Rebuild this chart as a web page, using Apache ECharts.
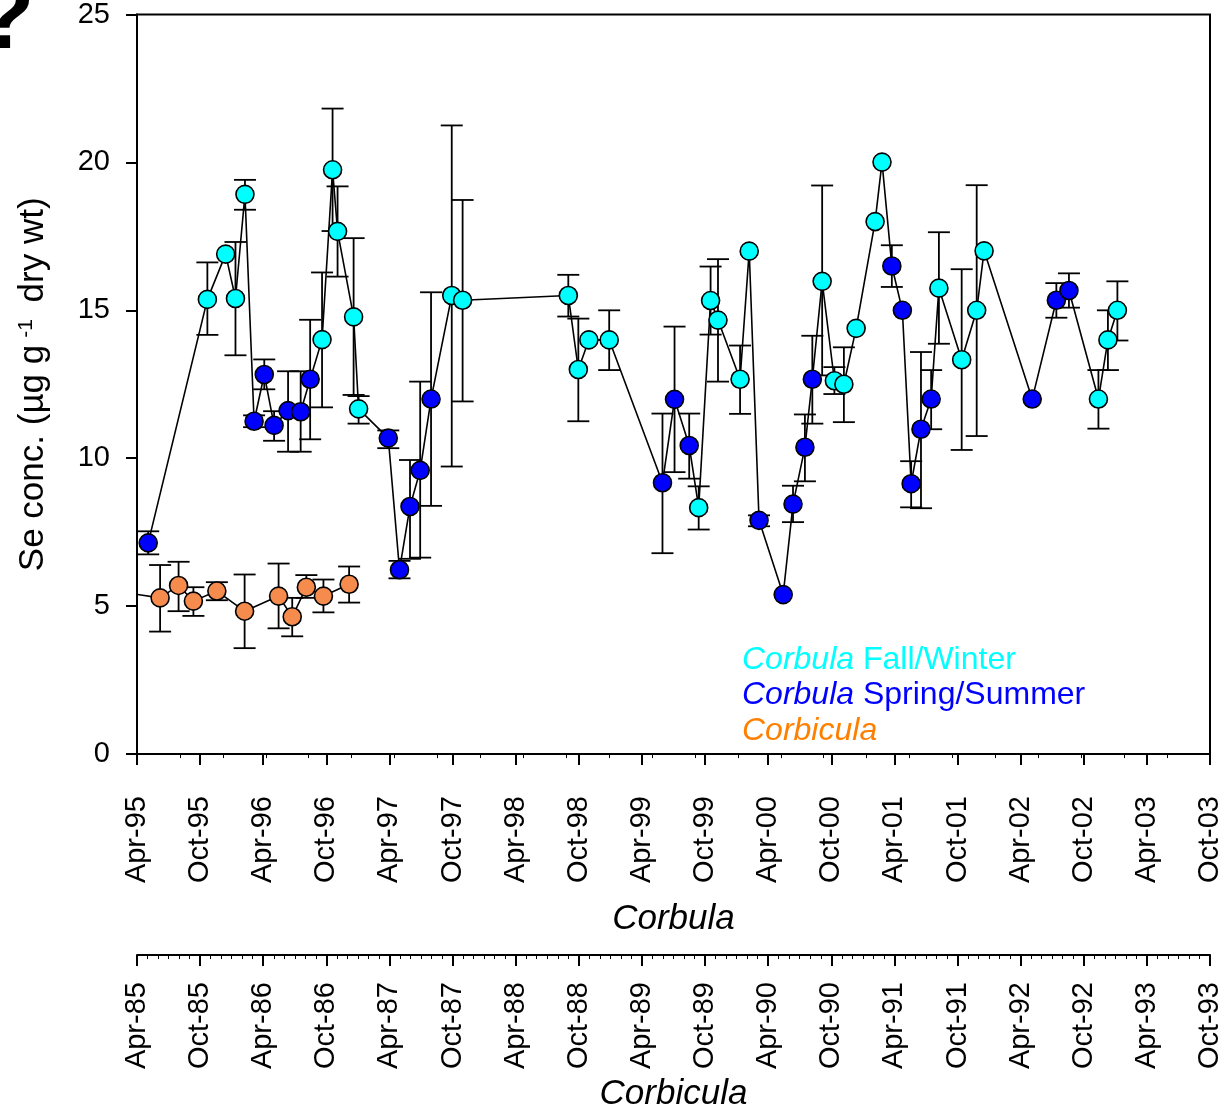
<!DOCTYPE html>
<html>
<head>
<meta charset="utf-8">
<script src="https://cdn.jsdelivr.net/npm/echarts@6/dist/echarts.min.js"></script>
<style>
html,body{margin:0;padding:0;background:#fff;}
#chart{width:1229px;height:1117px;}
</style>
</head>
<body>
<div id="chart"></div>
<script>
// tick labels, one every 6 months
var corbulaLabels = ['Apr-95','Oct-95','Apr-96','Oct-96','Apr-97','Oct-97','Apr-98','Oct-98','Apr-99',
    'Oct-99','Apr-00','Oct-00','Apr-01','Oct-01','Apr-02','Oct-02','Apr-03','Oct-03'];
var corbiculaLabels = ['Apr-85','Oct-85','Apr-86','Oct-86','Apr-87','Oct-87','Apr-88','Oct-88','Apr-89',
    'Oct-89','Apr-90','Oct-90','Apr-91','Oct-91','Apr-92','Oct-92','Apr-93','Oct-93'];

// Corbula samples (F = fall/winter, S = spring/summer)
var corbulaDates = ['1995-05-03','1995-10-22','1995-12-14','1996-01-12','1996-02-09','1996-03-05','1996-04-04',
    '1996-05-02','1996-06-12','1996-07-18','1996-08-15','1996-09-19','1996-10-19','1996-11-03','1996-12-19',
    '1997-01-03','1997-03-28','1997-04-30','1997-05-30','1997-06-29','1997-07-30','1997-09-29','1997-10-30',
    '1998-09-01','1998-09-30','1998-10-30','1998-12-28','1999-05-30','1999-07-04','1999-08-16','1999-09-13',
    '1999-10-17','1999-11-08','2000-01-11','2000-02-07','2000-03-05','2000-05-14','2000-06-12','2000-07-16',
    '2000-08-07','2000-09-05','2000-10-10','2000-11-07','2000-12-12','2001-02-06','2001-02-26','2001-03-24',
    '2001-04-24','2001-05-19','2001-06-17','2001-07-16','2001-08-08','2001-10-13','2001-11-26','2001-12-17',
    '2002-05-04','2002-07-13','2002-08-19','2002-11-13','2002-12-10','2003-01-07'];
var corbulaSe = [7.14,15.37,16.9,15.4,18.92,11.25,12.83,11.11,11.61,11.57,12.67,14.01,19.75,17.67,14.78,
    11.67,10.68,6.23,8.37,9.59,12.0,15.5,15.34,15.5,13.0,14.0,14.0,9.17,11.99,10.43,8.33,
    15.33,14.67,12.67,17.0,7.9,5.39,8.45,10.37,12.67,15.98,12.62,12.5,14.39,18.0,20.01,16.5,
    15.0,9.14,10.98,12.0,15.75,13.33,15.0,17.01,12.0,15.34,15.67,12.0,14.0,15.0];
var corbulaSeason = ['S','F','F','F','F','S','S','S','S','S','S','F','F','F','F',
    'F','S','S','S','S','S','F','F','F','F','F','F','S','S','S','F',
    'F','F','F','F','S','S','S','S','S','F','F','F','F','F','F','S',
    'S','S','S','S','F','F','F','F','S','S','S','F','F','F'];
var corbulaHi = [7.53,16.62,null,17.31,19.41,11.45,13.34,11.59,12.94,12.94,14.68,16.28,21.82,19.19,17.44,
    12.1,10.94,6.53,9.94,12.59,15.61,21.25,18.73,16.2,14.72,null,15.0,11.51,14.45,11.51,9.05,
    16.48,16.73,13.81,null,8.07,null,9.07,11.48,14.14,19.22,13.08,13.75,null,null,null,17.2,
    null,9.9,13.59,12.98,17.64,16.39,19.23,null,null,15.92,16.25,12.98,15.0,15.98];
var corbulaLo = [6.75,14.17,null,13.48,18.4,11.05,12.33,10.59,10.22,10.22,10.64,11.72,17.68,16.14,12.14,
    11.17,10.34,5.94,6.6,6.64,8.39,9.72,11.92,14.79,11.25,null,12.98,6.79,9.53,9.31,7.59,
    14.18,12.59,11.5,null,7.7,null,7.84,9.22,11.17,12.8,12.17,11.22,null,null,null,15.79,
    null,8.34,8.31,10.98,13.87,10.28,10.75,null,null,14.75,15.09,11.0,12.98,13.98];

// Corbicula samples (first one lies before the axis start)
var corbiculaDates = ['1985-03-01','1985-06-07','1985-07-30','1985-09-12','1985-11-19','1986-02-08',
    '1986-05-15','1986-06-24','1986-08-04','1986-09-23','1986-12-06'];
var corbiculaSe = [5.45,5.28,5.7,5.17,5.51,4.83,5.34,4.64,5.64,5.34,5.74];
var corbiculaHi = [null,6.39,6.5,5.64,5.81,6.07,6.44,5.28,6.05,5.9,6.34];
var corbiculaLo = [null,4.14,4.83,4.67,5.2,3.58,4.25,3.98,5.28,4.79,5.12];

var FONT = '"Liberation Sans", Arial, sans-serif';

// months after April 1st of the base year
function monthsFrom(d, baseYear){
    var p = d.split('-');
    return (+p[0] - baseYear) * 12 + (+p[1] - 4) + (+p[2] - 1) / 30.44;
}

function pts(dates, vals, base){
    return dates.map(function(d, i){ return [monthsFrom(d, base), vals[i]]; });
}
function errPts(dates, vals, hi, lo, base){
    var out = [];
    dates.forEach(function(d, i){
        if (hi[i] == null && lo[i] == null) return;
        out.push([monthsFrom(d, base), vals[i],
            lo[i] == null ? vals[i] : lo[i], hi[i] == null ? vals[i] : hi[i]]);
    });
    return out;
}

var corbulaLine = pts(corbulaDates, corbulaSe, 1995);
var fallPts = corbulaLine.filter(function(p, i){ return corbulaSeason[i] == 'F'; });
var springPts = corbulaLine.filter(function(p, i){ return corbulaSeason[i] == 'S'; });
var corbiculaLine = pts(corbiculaDates, corbiculaSe, 1985);

function renderErr(params, api){
    var x = api.value(0), v = api.value(1), lo = api.value(2), hi = api.value(3);
    var pHi = api.coord([x, hi]), pLo = api.coord([x, lo]), cx = pHi[0];
    var st = {stroke: '#000', lineWidth: 1.8};
    var kids = [{type: 'line', shape: {x1: cx, y1: pLo[1], x2: cx, y2: pHi[1]}, style: st}];
    if (hi > v) kids.push({type: 'line', shape: {x1: cx - 11, y1: pHi[1], x2: cx + 11, y2: pHi[1]}, style: st});
    if (lo < v) kids.push({type: 'line', shape: {x1: cx - 11, y1: pLo[1], x2: cx + 11, y2: pLo[1]}, style: st});
    return {type: 'group', children: kids};
}

function dateAxis(labels, offset, margin, name, nameGap, minorSplit, minorLen){
    return {
        type: 'value', min: 0, max: 102, interval: 6, position: 'bottom', offset: offset,
        axisLine: {show: true, onZero: false, lineStyle: {color: '#000', width: 2}},
        axisTick: {show: true, length: 11, lineStyle: {color: '#000', width: 2}},
        minorTick: {show: minorSplit > 0, splitNumber: minorSplit || 5, length: minorLen, lineStyle: {color: '#000', width: 1}},
        axisLabel: {rotate: 90, margin: margin, fontSize: 29, color: '#000', fontFamily: FONT,
            formatter: function(v){ return labels[Math.round(v / 6)]; }},
        splitLine: {show: false},
        name: name, nameLocation: 'middle', nameGap: nameGap,
        nameTextStyle: {fontStyle: 'italic', fontSize: 35, color: '#000', fontFamily: FONT}
    };
}

function legendText(top, text, color){
    return {type: 'text', left: 742, top: top, style: {text: text,
        rich: {i: {fontSize: 32, fontStyle: 'italic', fontFamily: FONT, fill: color},
               n: {fontSize: 32, fontFamily: FONT, fill: color}}}};
}

var dom = document.getElementById('chart');
var myChart = echarts.init(dom, null, {renderer: 'canvas'});
var option = {
    animation: false,
    backgroundColor: '#fff',
    grid: {left: 137, top: 14, width: 1073, height: 750, show: true, borderColor: '#000', borderWidth: 2},
    xAxis: [
        dateAxis(corbulaLabels, 0, 42, 'Corbula', 148, 0, 0),
        dateAxis(corbiculaLabels, 201, 27, 'Corbicula', 114, 6, 4),
        // minor ticks on the Corbula axis (every 4 months)
        {type: 'value', min: 0, max: 100, interval: 4, position: 'bottom', offset: 0,
            axisLine: {show: false}, axisLabel: {show: false}, splitLine: {show: false},
            axisTick: {show: true, length: 4, lineStyle: {color: '#000', width: 1}}}
    ],
    yAxis: {
        type: 'value', min: 0, max: 25, interval: 5,
        axisLine: {show: true, onZero: false, lineStyle: {color: '#000', width: 2}},
        axisTick: {show: true, length: 11, lineStyle: {color: '#000', width: 2}},
        axisLabel: {fontSize: 29, margin: 27, color: '#000', fontFamily: FONT},
        splitLine: {show: false},
        name: 'Se conc. (µg g{sup|-1} dry wt)', nameLocation: 'middle', nameRotate: 90, nameGap: 86,
        nameTextStyle: {fontSize: 35, color: '#000', fontFamily: FONT,
            rich: {sup: {fontSize: 21, color: '#000', fontFamily: FONT, verticalAlign: 'top', padding: [0, 7, 0, 7]}}}
    },
    graphic: [
        {type: 'text', left: -24, top: -26, style: {text: '?', font: 'bold 96px ' + FONT, fill: '#000'}},
        legendText(644, '{i|Corbula}{n| Fall/Winter}', '#00FFFF'),
        legendText(679, '{i|Corbula}{n| Spring/Summer}', '#0000FF'),
        legendText(715, '{i|Corbicula}', '#FF8000')
    ],
    series: [
        {type: 'line', xAxisIndex: 0, data: corbulaLine, showSymbol: false, z: 2,
            lineStyle: {color: '#000', width: 1.6}},
        {type: 'line', xAxisIndex: 1, data: corbiculaLine, showSymbol: false, z: 2, clip: true,
            lineStyle: {color: '#000', width: 1.6}},
        {type: 'custom', xAxisIndex: 0, data: errPts(corbulaDates, corbulaSe, corbulaHi, corbulaLo, 1995),
            renderItem: renderErr, z: 3},
        {type: 'custom', xAxisIndex: 1, data: errPts(corbiculaDates, corbiculaSe, corbiculaHi, corbiculaLo, 1985),
            renderItem: renderErr, z: 3},
        {type: 'scatter', xAxisIndex: 0, data: fallPts, symbolSize: 18, z: 4,
            itemStyle: {color: '#00FFFF', borderColor: '#000', borderWidth: 1.6, opacity: 1}},
        {type: 'scatter', xAxisIndex: 0, data: springPts, symbolSize: 18, z: 4,
            itemStyle: {color: '#0000FF', borderColor: '#000', borderWidth: 1.6, opacity: 1}},
        {type: 'scatter', xAxisIndex: 1, data: corbiculaLine, symbolSize: 18, z: 4, clip: true,
            itemStyle: {color: '#F58B4C', borderColor: '#000', borderWidth: 1.6, opacity: 1}}
    ]
};
myChart.setOption(option);
</script>
</body>
</html>
